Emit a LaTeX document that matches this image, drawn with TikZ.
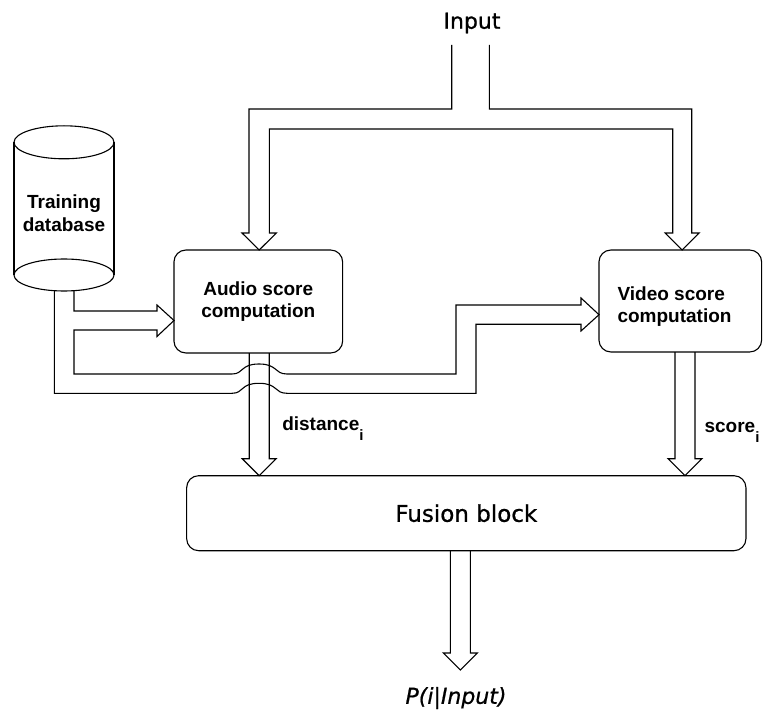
\documentclass[tikz,border=0pt]{standalone}
\usepackage{fontspec}
\setmainfont{DejaVu Sans}[FakeBold=0.8,AutoFakeBold=0.8]
\newfontfamily\bigfont{DejaVu Sans}[FakeBold=0.8]
\newfontfamily\labfont{Liberation Sans}
\newcommand\dnarrow[3]{%
  \draw (#1-10,#2) -- (#1-10,#3-17) -- (#1-17,#3-17) -- (#1,#3) -- (#1+17,#3-17) -- (#1+10,#3-17) -- (#1+10,#2);}
\begin{document}
\begin{tikzpicture}[x=1pt,y=-1pt, line width=1.1pt, line join=miter,
  box/.style={draw, rounded corners=12pt, inner sep=0pt},
  lab/.style={font=\labfont\fontsize{19}{22.7}\selectfont\bfseries, align=center, inner sep=0pt},
  big/.style={font=\bigfont\fontsize{22}{26}\selectfont, inner sep=0pt}]
\useasboundingbox (0,0) rectangle (763,711);

% boxes
\node[box, lab, minimum width=168.7pt, minimum height=103pt] (audio) at (258.3,301.5) {Audio score\\computation};
\node[box, minimum width=162.7pt, minimum height=102pt] (video) at (680.3,301) {};
\node[lab, anchor=west, align=left] (videotxt) at (617,306.5) {Video score\\computation};
\node[box, minimum width=559.3pt, minimum height=75pt, font=\bigfont\fontsize{23}{27}\selectfont] (fusion) at (466.3,513.2) {Fusion block};

% database cylinder
\draw (14,142.3) -- (14,275) (114,142.3) -- (114,275);
\draw (64,142.3) ellipse [x radius=50pt, y radius=16.5pt];
\draw (64,275) ellipse [x radius=50pt, y radius=16pt];
\node[lab] (db) at (64,213) {Training\\database};

% labels
\node[big] (input) at (472,23) {Input};
\node[big, font=\bigfont\fontsize{22}{26}\selectfont\itshape] (out) at (456,698) {P(i|Input)};
\node[lab, anchor=base west] (dist) at (281.7,430) {distance\raisebox{-10pt}{\fontsize{15}{15}\selectfont i}};
\node[lab, anchor=base west] (score) at (704,432.5) {score\raisebox{-10pt}{\fontsize{15}{15}\selectfont i}};

% input split arrow
\draw (451.7,45) -- (451.7,109) -- (249,109) -- (249,233) -- (242,233) -- (259.2,250)
  -- (276.4,233) -- (269.4,233) -- (269.4,129) -- (672.7,129) -- (672.7,233) -- (665.2,233)
  -- (682.2,250) -- (699.2,233) -- (691.7,233) -- (691.7,109) -- (489.3,109) -- (489.3,45);

% database channel to audio and video
\draw (74,290.7) -- (74,311) -- (157,311) -- (157,305) -- (174,320.5) -- (157,336.5) -- (157,330)
  -- (74,330) -- (74,374) -- (232,374)
  .. controls (244,374) and (240,364) .. (259,364)
  .. controls (278,364) and (274,374) .. (287,374)
  -- (456,374) -- (456,305) -- (581,305) -- (581,298) -- (599,314.7) -- (581,331) -- (581,324.3)
  -- (476,324.3) -- (476,393.3) -- (287,393.3)
  .. controls (274,393.3) and (278,383.3) .. (259,383.3)
  .. controls (240,383.3) and (244,393.3) .. (232,393.3)
  -- (54.3,393.3) -- (54.3,290.7);

% outputs
\dnarrow{259.2}{353}{475.7}
\dnarrow{685}{352}{475.7}
\dnarrow{460.3}{550.7}{670}
\end{tikzpicture}
\end{document}
